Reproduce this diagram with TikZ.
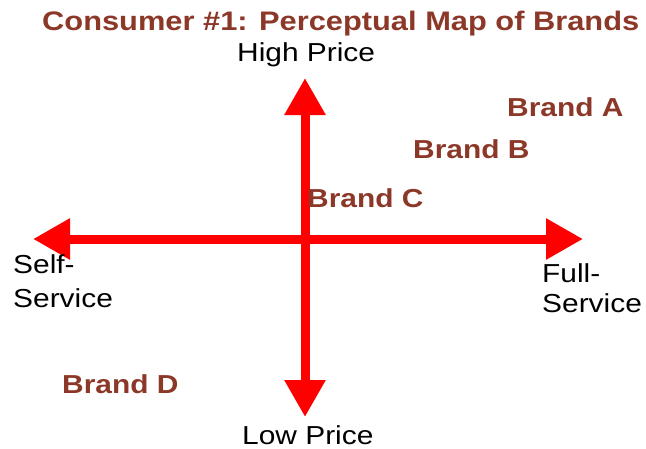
\documentclass[tikz,border=0pt]{standalone}
\usepackage{fontspec}
\setmainfont[FakeStretch=1.15]{Liberation Sans}
\usetikzlibrary{arrows.meta}
\definecolor{brandbrown}{RGB}{140,56,40}
\newcommand{\lbl}{\fontsize{26}{33}\selectfont}

\begin{document}
\begin{tikzpicture}[x=1pt,y=-1pt,
  axis/.style={red,line width=9pt,{Triangle[length=37pt,width=39pt]}-{Triangle[length=37pt,width=39pt]}},
  brand/.style={anchor=base west,inner sep=0pt,font=\lbl\bfseries,text=brandbrown},
  axlabel/.style={anchor=base west,inner sep=0pt,font=\lbl,align=left}]
\useasboundingbox (0,0) rectangle (646,448);
% axis ends
\coordinate (o) at (305,239);
\coordinate (l) at (33,239);
\coordinate (r) at (583,239);
\coordinate (t) at (305,78);
\coordinate (b) at (305,417);
\draw[axis] (l) -- (r);
\draw[axis] (b) -- (t);
% title and axis labels
\node[brand,font=\fontsize{26.8}{33}\selectfont\bfseries] (title) at (42,30) {Consumer \#1: Perceptual Map of Brands};
\node[axlabel] (high) at (237,61) {High Price};
\node[axlabel] (low) at (242,444) {Low Price};
\node[axlabel] (self) at (13,307) {Self-\\[1pt]Service};
\node[axlabel] (full) at (542,312) {Full-\\[-3pt]Service};
% brands
\foreach \name/\x/\y in {A/507/116,B/413/158,C/307/207,D/62/393}{
\node[brand] (brand\name) at (\x,\y) {Brand \name};
}
\end{tikzpicture}
\end{document}
